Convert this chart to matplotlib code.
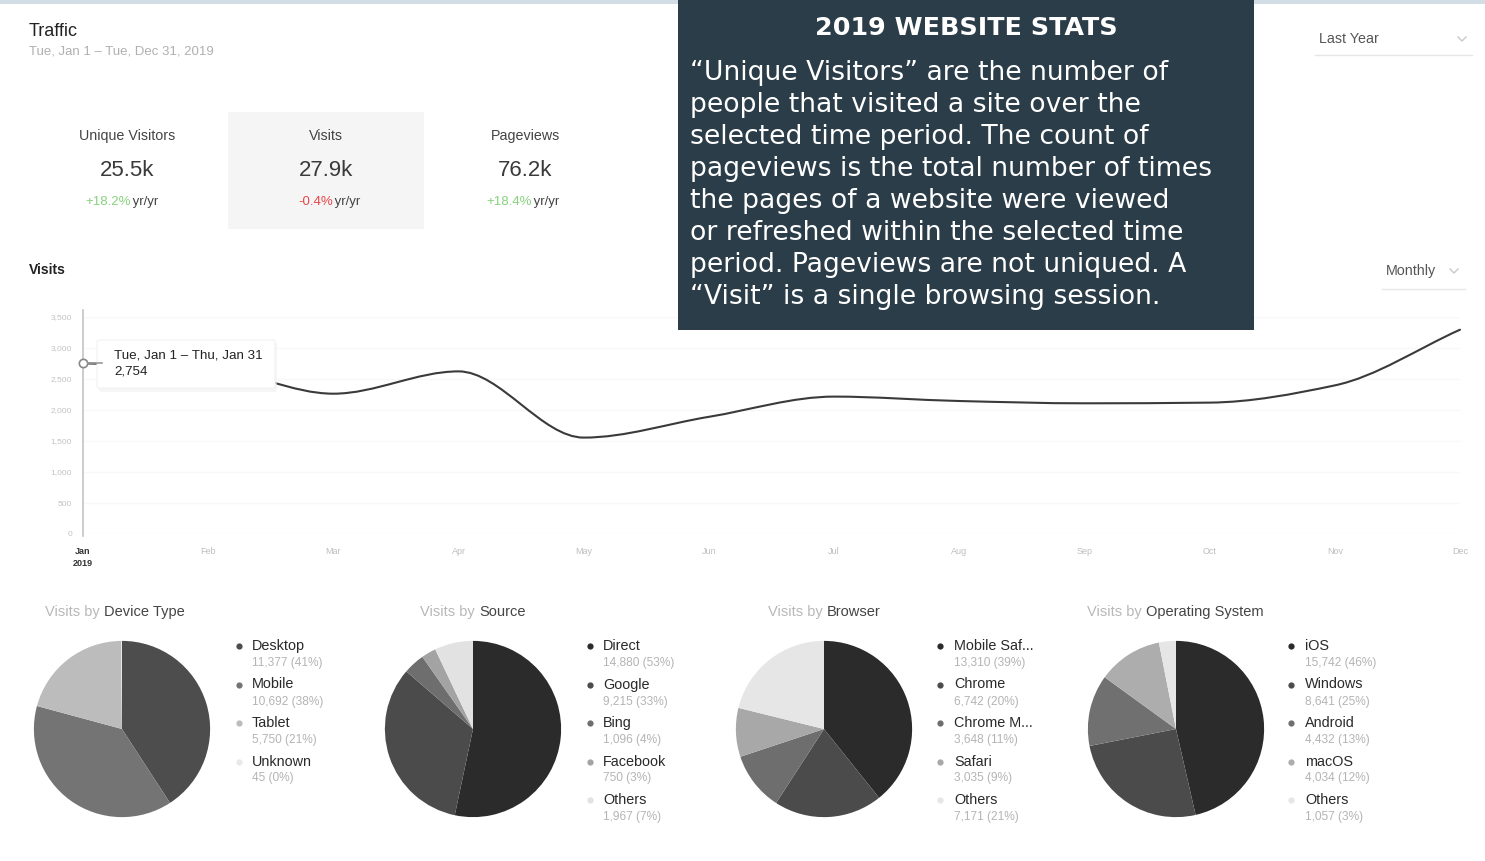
# website traffic dashboard for 2019 with a text panel on the top

import numpy as np
import matplotlib
matplotlib.use("Agg")
import matplotlib.pyplot as plt
from matplotlib.path import Path
from matplotlib.patches import PathPatch, Rectangle, FancyBboxPatch

W, H = 1485, 861

months = ['Jan', 'Feb', 'Mar', 'Apr', 'May', 'Jun', 'Jul', 'Aug', 'Sep', 'Oct', 'Nov', 'Dec']
monthly_visits = [2754, 2680, 2263, 2623, 1555, 1890, 2216, 2145, 2108, 2119, 2397, 3295]
y_ticks = [0, 500, 1000, 1500, 2000, 2500, 3000, 3500]

kpi_names = ['Unique Visitors', 'Visits', 'Pageviews']
kpi_values = ['25.5k', '27.9k', '76.2k']
kpi_changes = ['+18.2%', '-0.4%', '+18.4%']

device_labels = ['Desktop', 'Mobile', 'Tablet', 'Unknown']
device_visits = [11377, 10692, 5750, 45]
source_labels = ['Direct', 'Google', 'Bing', 'Facebook', 'Others']
source_visits = [14880, 9215, 1096, 750, 1967]
browser_labels = ['Mobile Saf...', 'Chrome', 'Chrome M...', 'Safari', 'Others']
browser_visits = [13310, 6742, 3648, 3035, 7171]
os_labels = ['iOS', 'Windows', 'Android', 'macOS', 'Others']
os_visits = [15742, 8641, 4432, 4034, 1057]

box_title = "2019 WEBSITE STATS"
box_lines = ["\u201cUnique Visitors\u201d are the number of",
             "people that visited a site over the",
             "selected time period. The count of",
             "pageviews is the total number of times",
             "the pages of a website were viewed",
             "or refreshed within the selected time",
             "period. Pageviews are not uniqued. A",
             "\u201cVisit\u201d is a single browsing session."]

FONT = 'Liberation Sans'
plt.rcParams['font.family'] = [FONT, 'DejaVu Sans']


def pix_axes(fig, x0, y0, x1, y1, **kw):
    # axes placed by pixel box (top-left origin)
    return fig.add_axes([x0 / W, 1 - y1 / H, (x1 - x0) / W, (y1 - y0) / H], **kw)


def monotone_path(x, y):
    # monotone cubic (like d3 curveMonotoneX) as bezier path
    x = np.asarray(x, float)
    y = np.asarray(y, float)
    d = np.diff(y) / np.diff(x)
    m = np.zeros(len(x))
    m[0], m[-1] = d[0], d[-1]
    for i in range(1, len(x) - 1):
        if d[i - 1] * d[i] <= 0:
            m[i] = 0
        else:
            m[i] = 2 / (1 / d[i - 1] + 1 / d[i])
    verts = [(x[0], y[0])]
    codes = [Path.MOVETO]
    for i in range(len(x) - 1):
        h = x[i + 1] - x[i]
        verts += [(x[i] + h / 3, y[i] + m[i] * h / 3),
                  (x[i + 1] - h / 3, y[i + 1] - m[i + 1] * h / 3),
                  (x[i + 1], y[i + 1])]
        codes += [Path.CURVE4] * 3
    return Path(verts, codes)


fig = plt.figure(figsize=(W / 100, H / 100), dpi=100)
fig.patch.set_facecolor('white')

# ---- line chart of monthly visits
ax = pix_axes(fig, 83, 317, 1460, 534)
x = np.arange(len(months))
ax.add_patch(PathPatch(monotone_path(x, monthly_visits), fill=False, edgecolor='#3a3a3a',
                       lw=1.5, clip_on=False, capstyle='round'))
ax.set_xlim(0, len(months) - 1)
ax.set_ylim(0, 3500)
ax.set_yticks(y_ticks)
ax.set_yticklabels([f"{v:,}" for v in y_ticks], fontsize=6, color='#c2c2c2')
ax.set_xticks(x)
ax.set_xticklabels(months, fontsize=6.5, color='#bdbdbd')
ax.get_xticklabels()[0].set_color('#333333')
ax.get_xticklabels()[0].set_fontweight('bold')
ax.tick_params(length=0, pad=8)
ax.tick_params(axis='x', pad=9)
for s in ax.spines.values():
    s.set_visible(False)
ax.grid(axis='y', color='#f8f8f8', lw=1)
ax.set_axisbelow(True)
ax.axvline(0, ymin=-0.01, ymax=1.03, color='#c4c4c4', lw=1.2, clip_on=False)
ax.plot([0], [monthly_visits[0]], 'o', ms=6, mfc='white', mec='#888888', mew=1.2,
        clip_on=False, zorder=5)

# ---- pies
pie_sets = [
    ("Device Type", device_labels, device_visits, (122, 729),
     ['#4d4d4d', '#747474', '#bcbcbc', '#e8e8e8'], 45, 239, 252),
    ("Source", source_labels, source_visits, (473, 729),
     ['#2b2b2b', '#4b4b4b', '#6e6e6e', '#a3a3a3', '#e2e2e2'], 420, 590, 603),
    ("Browser", browser_labels, browser_visits, (824, 729),
     ['#2b2b2b', '#4b4b4b', '#6e6e6e', '#a8a8a8', '#e6e6e6'], 768, 940, 954),
    ("Operating System", os_labels, os_visits, (1176, 729),
     ['#2b2b2b', '#4b4b4b', '#707070', '#adadad', '#e6e6e6'], 1087, 1291, 1305),
]
r = 89
for name, labels, vals, (cx, cy), cols, tx, dx, lx in pie_sets:
    pa = pix_axes(fig, cx - r, cy - r, cx + r, cy + r)
    pa.pie(vals, colors=cols, startangle=90, counterclock=False, radius=1,
           wedgeprops=dict(linewidth=0))
    pa.set_xlim(-1.01, 1.01)
    pa.set_ylim(-1.01, 1.01)
    pa.set_aspect('equal')
    pa.axis('off')

# ---- overlay in pixel coordinates for the dashboard furniture and text
bg = fig.add_axes([0, 0, 1, 1], zorder=10)
bg.set_xlim(0, W)
bg.set_ylim(H, 0)
bg.axis('off')
bg.patch.set_alpha(0)

bg.add_patch(Rectangle((0, 0), W, 4, color='#d2dde5', lw=0))

bg.text(29, 32, "Traffic", fontsize=13, color='#222222', va='center')
bg.text(29, 52, "Tue, Jan 1 \u2013 Tue, Dec 31, 2019", fontsize=9.5, color='#b0b0b0', va='center')

# kpi cards
bg.add_patch(Rectangle((228, 112), 196, 117, color='#f5f5f5', lw=0))
card_x = [127, 326, 525]
split_x = [131, 333, 532]
for i in range(3):
    bg.text(card_x[i], 136, kpi_names[i], fontsize=10.3, color='#444444', ha='center', va='center')
    bg.text(card_x[i], 171, kpi_values[i], fontsize=16, color='#3a3a3a', ha='center', va='center')
    col = '#e8464a' if kpi_changes[i].startswith('-') else '#86d27e'
    bg.text(split_x[i], 202, kpi_changes[i], fontsize=9.5, color=col, ha='right', va='center')
    bg.text(split_x[i] - 2, 202, " yr/yr", fontsize=9.5, color='#444444', ha='left', va='center')

bg.text(29, 270, "Visits", fontsize=10, color='#222222', fontweight='bold', va='center')

# dropdowns
def dropdown(xt, yt, label, xchev, x0, x1, yline):
    bg.text(xt, yt, label, fontsize=10.3, color='#555555', va='center')
    bg.plot([xchev - 4, xchev, xchev + 4], [yt - 2, yt + 2, yt - 2], color='#c8c8c8', lw=1)
    bg.plot([x0, x1], [yline, yline], color='#e6e6e6', lw=1)

dropdown(1319, 39, "Last Year", 1462, 1315, 1472, 55)
dropdown(1386, 271, "Monthly", 1454, 1382, 1465, 289)

# axis year label under Jan
bg.text(83, 563, "2019", fontsize=6.5, color='#333333', fontweight='bold', ha='center', va='center')

# tooltip on first point
bg.add_patch(FancyBboxPatch((99, 342), 178, 50, boxstyle='round,pad=0,rounding_size=2',
                            fc='#f1f1f1', ec='none', alpha=0.6))
bg.add_patch(FancyBboxPatch((97, 340), 178, 48, boxstyle='round,pad=0,rounding_size=2',
                            fc='white', ec='#f2f2f2', lw=0.8))
bg.plot([88, 102], [363, 363], color='#999999', lw=1.2)
bg.text(114, 355, "Tue, Jan 1 \u2013 Thu, Jan 31", fontsize=9.6, color='#222222', va='center')
bg.text(114, 372, f"{monthly_visits[0]:,}", fontsize=9.6, color='#222222', va='center')

# pie titles and legends
for name, labels, vals, (cx, cy), cols, tx, dx, lx in pie_sets:
    t1 = bg.text(tx, 612, "Visits by ", fontsize=10.5, color='#b8b8b8', va='center')
    bg.annotate(name, xy=(1, 0.5), xycoords=t1, fontsize=10.5, color='#444444', va='center')
    total = sum(vals)
    for i, (lab, v) in enumerate(zip(labels, vals)):
        yy = 646 + 38.5 * i
        bg.plot([dx], [yy], 'o', ms=4.5, color=cols[i], mec='none')
        bg.text(lx, yy, lab, fontsize=10.4, color='#2a2a2a', va='center')
        bg.text(lx, yy + 17, f"{v:,} ({round(100 * v / total)}%)", fontsize=8.6,
                color='#b4b4b4', va='center')

# dark info panel
bg.add_patch(Rectangle((678, 0), 576, 330, color='#2b3d48', lw=0))
bg.text(966, 28, box_title, fontsize=18.3, color='white', fontweight='heavy',
        ha='center', va='center', family='DejaVu Sans')
for i, line in enumerate(box_lines):
    bg.text(690, 73 + 32 * i, line, fontsize=19.2, color='white', ha='left', va='center',
            family='DejaVu Sans')

plt.savefig("out.png", dpi=100)
